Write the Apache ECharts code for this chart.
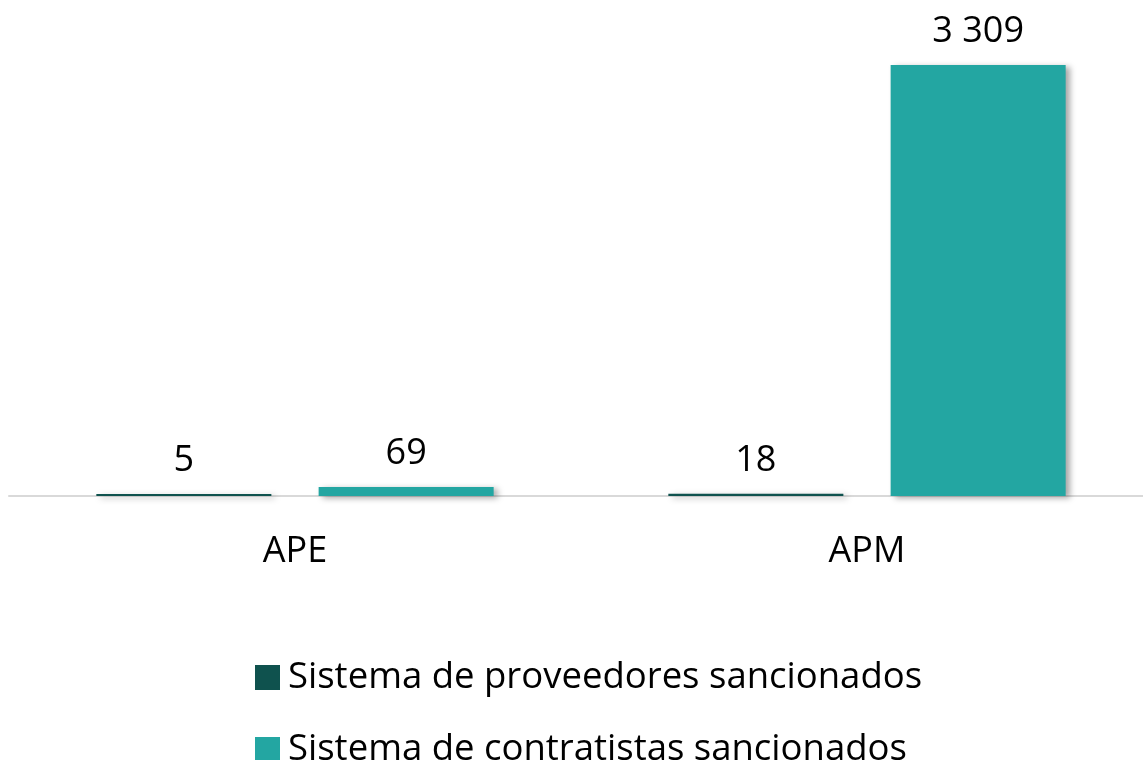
<!DOCTYPE html>
<html>
<head>
<meta charset="utf-8">
<script src="https://cdn.jsdelivr.net/npm/echarts@6/dist/echarts.min.js"></script>
<style>
  html, body { margin: 0; padding: 0; background: #fff; }
  #chart { width: 1143px; height: 760px; }
</style>
</head>
<body>
<div id="chart"></div>
<script>
// categorías y valores
const categories = ['APE', 'APM']
const seriesNames = ['Sistema de proveedores sancionados', 'Sistema de contratistas sancionados']
const proveedores = [5, 18]
const contratistas = [69, 3309]

const FONT = 'Open Sans'
const colors = ['#0f524e', '#23a6a2']

// separador de miles con espacio: 3309 -> "3 309"
function fmt (v) {
  return String(v).replace(/\B(?=(\d{3})+(?!\d))/g, ' ')
}

function barSeries (name, data, color) {
  return {
    name: name,
    type: 'bar',
    data: data,
    barWidth: '30.6%',
    barGap: '27%',
    barMinHeight: 2,
    itemStyle: {
      color: color,
      shadowColor: 'rgba(0,0,0,0.35)',
      shadowBlur: 6,
      shadowOffsetX: 4,
      shadowOffsetY: 2
    },
    label: {
      show: true,
      position: 'top',
      distance: 15,
      color: '#000',
      fontFamily: FONT,
      fontSize: 36,
      formatter: p => fmt(p.value)
    }
  }
}

const chart = echarts.init(document.getElementById('chart'))
chart.setOption({
  animation: false,
  grid: { left: 9, width: 1144, top: 65, bottom: 264, outerBoundsMode: 'none', containLabel: false },
  legend: {
    orient: 'vertical',
    left: 255,
    top: 659,
    height: 140,
    padding: 0,
    itemWidth: 25,
    itemHeight: 25,
    itemGap: 35,
    icon: 'rect',
    textStyle: { fontFamily: FONT, fontSize: 36.5, lineHeight: 32, color: '#000', padding: [0, 0, 0, 3] },
    data: seriesNames
  },
  xAxis: {
    type: 'category',
    data: categories,
    axisLine: { lineStyle: { color: '#d9d9d9', width: 2 } },
    axisTick: { show: false },
    axisLabel: { fontFamily: FONT, fontSize: 36, color: '#000', margin: 38 }
  },
  yAxis: {
    type: 'value',
    min: 0,
    max: v => v.max,
    show: false,
    splitLine: { show: false }
  },
  series: [
    barSeries(seriesNames[0], proveedores, colors[0]),
    barSeries(seriesNames[1], contratistas, colors[1])
  ]
})
</script>
</body>
</html>
